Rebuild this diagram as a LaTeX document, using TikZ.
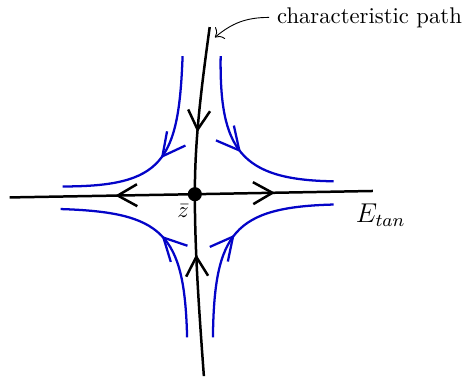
\documentclass[tikz,border=0pt]{standalone}
\usepackage{amsmath,amssymb}
\usepackage{tikz}
\usetikzlibrary{arrows.meta,positioning,decorations.markings}
\definecolor{cB}{HTML}{0404C8}
\tikzset{
  dot/.style={circle,fill=black,inner sep=2.2pt},
  axis/.style={draw=black,line width=1.1pt},
  flow/.style={draw=cB,line width=1pt},
  midarrow/.style={postaction={decorate},decoration={markings,
      mark=at position #1 with {\arrow{Straight Barb[length=3mm,width=3.4mm]}}}},
  flowarrow/.style={postaction={decorate},decoration={markings,
      mark=at position #1 with {\arrow{Straight Barb[length=3.5mm,width=3.6mm]}}}},
  note/.style={-{To[scale=1.3]},thin},
}

\begin{document}
\begin{tikzpicture}
  \useasboundingbox (-3.02,-2.85) rectangle (4.28,3.01);
  % saddle at zbar: characteristic path (stable) and E_tan (unstable)
  \node[dot] (zbar) at (0,0) {};
  \coordinate (ptop) at (0.23,2.59);
  \coordinate (pbot) at (0.14,-2.82);
  \coordinate (eleft) at (-2.87,-0.05);
  \coordinate (eright) at (2.76,0.05);
  \draw[axis,midarrow=.63] (ptop) .. controls (0.08,1.5) and (0,0.8) .. (zbar.center);
  \draw[axis,midarrow=.67] (pbot) .. controls (0.05,-1.6) and (0,-0.8) .. (zbar.center);
  \draw[axis,midarrow=.43] (zbar.center) -- (eleft);
  \draw[axis,midarrow=.45] (zbar.center) -- (eright);
  % nearby orbits
  \draw[flow,flowarrow=.5] (-0.19,2.14) .. controls (-0.25,0.5) and (-0.5,0.12) .. (-2.05,0.12);
  \draw[flow,flowarrow=.5] (0.40,2.14) .. controls (0.38,0.7) and (0.7,0.22) .. (2.15,0.20);
  \draw[flow,flowarrow=.5] (-0.12,-2.22) .. controls (-0.16,-0.6) and (-0.5,-0.28) .. (-2.08,-0.23);
  \draw[flow,flowarrow=.5] (0.28,-2.22) .. controls (0.3,-0.6) and (0.6,-0.2) .. (2.15,-0.16);
  % labels
  \node (zlab) at (-0.18,-0.26) {$\bar{z}$};
  \node (etan) at (2.88,-0.33) {\large $E_{tan}$};
  \node[anchor=west] (cpath) at (1.15,2.74) {characteristic path};
  \coordinate (ctip) at (0.31,2.43);
  \draw[note] (cpath.west) to[out=180,in=40] (ctip);
\end{tikzpicture}
\end{document}
